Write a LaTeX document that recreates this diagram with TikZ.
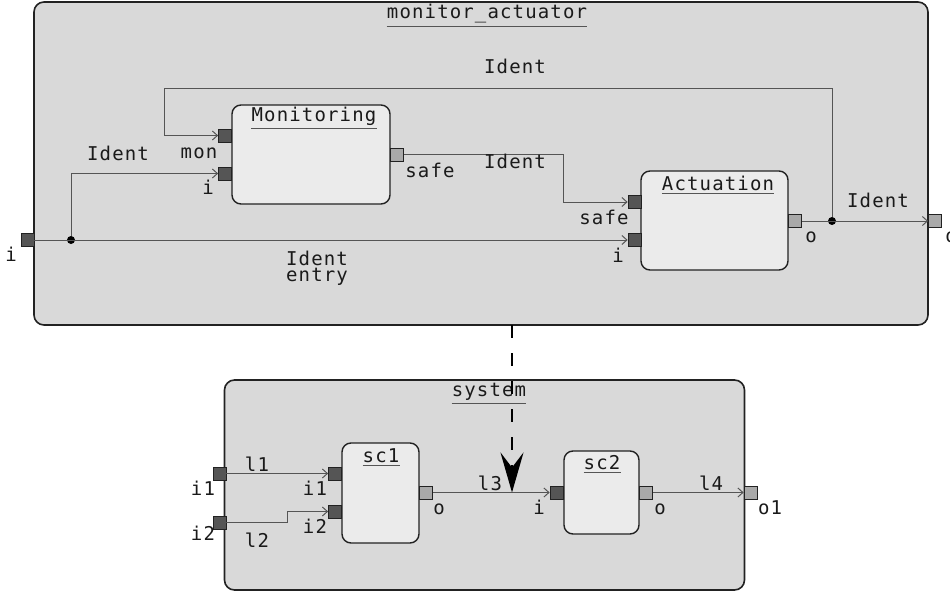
\documentclass[tikz,border=0pt]{standalone}
\usepackage{fontspec}
\newfontfamily\diafont[LetterSpace=6]{DejaVu Sans Mono}
\usepackage{xcolor}
\usetikzlibrary{arrows.meta}

\definecolor{outerbg}{HTML}{D9D9D9}
\definecolor{innerbg}{HTML}{EBEBEB}
\definecolor{inport}{HTML}{555555}
\definecolor{outport}{HTML}{A9A9A9}
\definecolor{edge}{HTML}{222222}
\definecolor{wire}{HTML}{555555}
\definecolor{txt}{HTML}{1A1A1A}

\begin{document}
\begin{tikzpicture}[
    x=1pt, y=-1pt,
    frame/.style={draw=edge, fill=outerbg, line width=1.6pt,
                  rounded corners=10pt, inner sep=0pt},
    block/.style={draw=edge, fill=innerbg, line width=1.4pt,
                  rounded corners=9pt, inner sep=0pt},
    iport/.style={draw=edge, fill=inport, line width=0.7pt,
                  minimum size=13pt, inner sep=0pt},
    oport/.style={iport, fill=outport},
    lbl/.style={font=\diafont\fontsize{19}{13}\selectfont,
                text=txt, inner sep=0pt, anchor=base},
    ttl/.style={lbl, inner ysep=3pt,
                append after command={(\tikzlastnode.south west)
                  edge[draw=wire, line width=1.3pt] (\tikzlastnode.south east)}},
    wire/.style={draw=wire, line width=1pt,
                 -{Straight Barb[length=5pt, width=9pt]}},
    dot/.style={circle, fill=black, minimum size=8pt, inner sep=0pt},
    refine/.style={line width=2.6pt, dash pattern=on 13pt off 15pt,
                   -{Stealth[length=40pt, width=23pt, inset=15pt]}}
  ]
  \useasboundingbox (0,0) rectangle (950,594);

  % monitor_actuator
  \node[frame, minimum width=894pt, minimum height=323pt] (ma) at (481,163.5) {};
  \node[ttl] (maT) at (487,19) {monitor\_actuator};

  \node[block, minimum width=158pt, minimum height=99pt] (mon) at (311,154.5) {};
  \node[ttl] (monT) at (314,121) {Monitoring};
  \node[block, minimum width=147pt, minimum height=99pt] (act) at (714.5,220.5) {};
  \node[ttl] (actT) at (718,190) {Actuation};

  % ports
  \node[iport] (pI) at (27.5,240) {};
  \node[oport] (pO) at (935,221) {};
  \node[iport] (monMon) at (225,135.5) {};
  \node[iport] (monI) at (225,173.5) {};
  \node[oport] (monSafe) at (397,154.5) {};
  \node[iport] (actSafe) at (634.5,202) {};
  \node[iport] (actI) at (634.5,240) {};
  \node[oport] (actO) at (795,221) {};

  % connections
  \node[dot] (split1) at (71,240) {};
  \node[dot] (split2) at (832,221) {};
  \coordinate (fbR) at (832,88);
  \coordinate (fbL) at (164,88);
  \coordinate (bendS) at (563,154.5);
  \draw[wire] (pI.east) -- (actI.west);
  \draw[wire] (split1) |- (monI.west);
  \draw[wire] (split2) -- (fbR) -- (fbL) |- (monMon.west);
  \draw[wire] (monSafe.east) -- (bendS) |- (actSafe.west);
  \draw[wire] (actO.east) -- (pO.west);

  % labels
  \node[lbl] (lI) at (11,261) {i};
  \node[lbl] (lO) at (951,242) {o};
  \node[lbl] (lMon) at (199,158) {mon};
  \node[lbl] (lMonI) at (208,194) {i};
  \node[lbl] (lMonSafe) at (430,177) {safe};
  \node[lbl] (lActSafe) at (604,224) {safe};
  \node[lbl] (lActI) at (618,262) {i};
  \node[lbl] (lActO) at (811,242) {o};
  \node[lbl] (wTop) at (515,74) {Ident};
  \node[lbl] (wLeft) at (118,160) {Ident};
  \node[lbl] (wMid) at (515,168) {Ident};
  \node[lbl] (wRight) at (878,207) {Ident};
  \node[lbl, anchor=north, align=center] (wEntry) at (317,251) {Ident\\[1pt]entry};

  % system
  \node[frame, minimum width=520pt, minimum height=210pt] (sys) at (484.5,485) {};
  \node[ttl] (sysT) at (489,396) {system};

  \node[block, minimum width=77pt, minimum height=100pt] (sc1) at (380.5,493) {};
  \node[ttl] (sc1T) at (381,462) {sc1};
  \node[block, minimum width=75pt, minimum height=83pt] (sc2) at (601.5,492.5) {};
  \node[ttl] (sc2T) at (602,469) {sc2};

  \node[iport] (sI1) at (219.5,473.5) {};
  \node[iport] (sI2) at (219.5,522.5) {};
  \node[oport] (sO1) at (750.5,492.5) {};
  \node[iport] (c1I1) at (335,473.5) {};
  \node[iport] (c1I2) at (335,511.5) {};
  \node[oport] (c1O) at (426,492.5) {};
  \node[iport] (c2I) at (556.5,492.5) {};
  \node[oport] (c2O) at (646,492.5) {};

  \coordinate (bendL) at (287,522.5);
  \draw[wire] (sI1.east) -- (c1I1.west);
  \draw[wire] (sI2.east) -- (bendL) |- (c1I2.west);
  \draw[wire] (c1O.east) -- (c2I.west);
  \draw[wire] (c2O.east) -- (sO1.west);

  \node[lbl] (lsI1) at (203,495) {i1};
  \node[lbl] (lsI2) at (203,540) {i2};
  \node[lbl] (lc1I1) at (315,495) {i1};
  \node[lbl] (lc1I2) at (315,533) {i2};
  \node[lbl] (lc1O) at (439,514) {o};
  \node[lbl] (lc2I) at (539,514) {i};
  \node[lbl] (lc2O) at (660,514) {o};
  \node[lbl] (lsO1) at (770,514) {o1};
  \node[lbl] (wL1) at (257,471) {l1};
  \node[lbl] (wL2) at (257,547) {l2};
  \node[lbl] (wL3) at (490,490) {l3};
  \node[lbl] (wL4) at (711,490) {l4};

  % refinement arrow
  \coordinate (refTop) at (512,325);
  \coordinate (refTip) at (512,492.5);
  \draw[refine] (refTop) -- (refTip);
\end{tikzpicture}
\end{document}
